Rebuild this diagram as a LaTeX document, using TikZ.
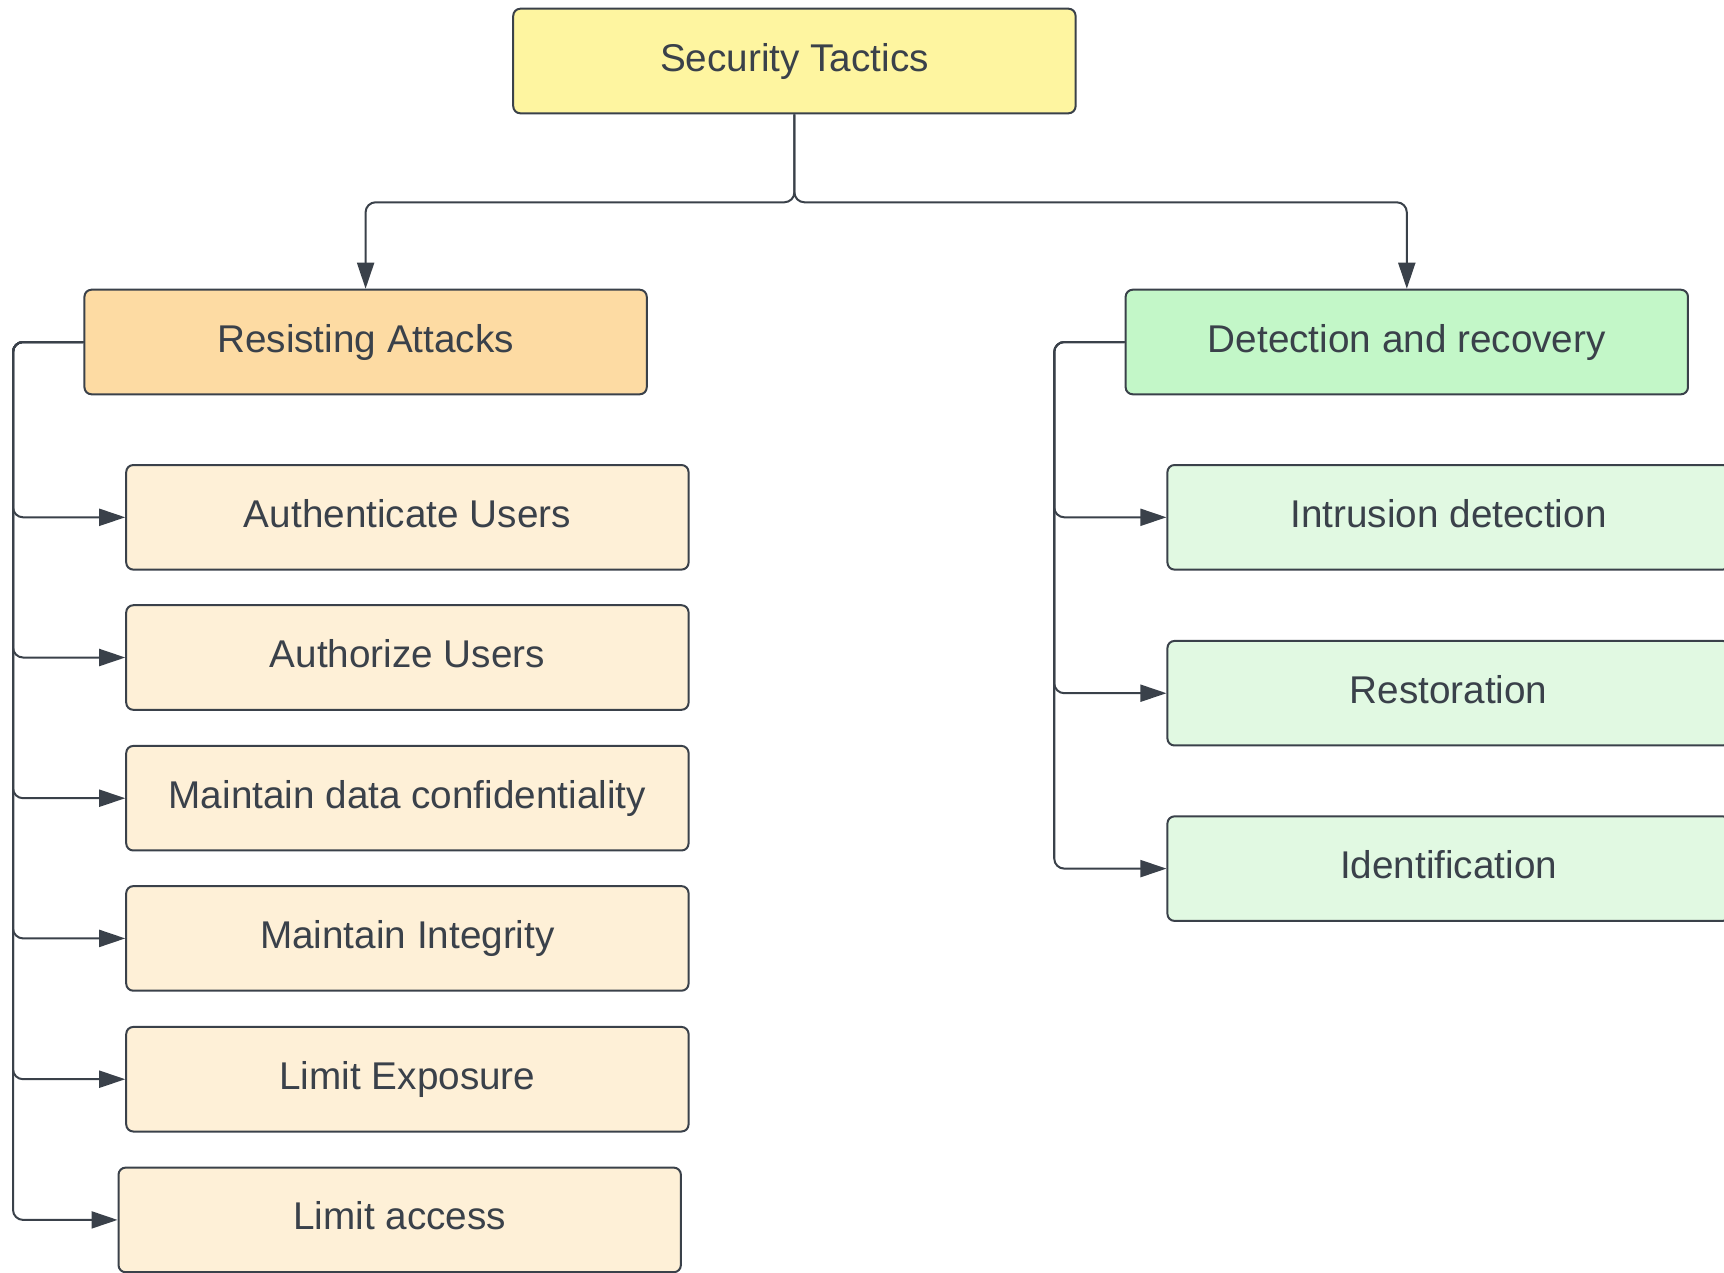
\documentclass[tikz,border=0pt]{standalone}
\usepackage{fontspec}
\setmainfont{Liberation Sans}
\usetikzlibrary{arrows.meta}
\definecolor{ink}{HTML}{3A414A}
\definecolor{topfill}{HTML}{FEF5A0}
\definecolor{resfill}{HTML}{FDDBA3}
\definecolor{resleaf}{HTML}{FEF0D7}
\definecolor{detfill}{HTML}{C3F7C8}
\definecolor{detleaf}{HTML}{E1F9E2}
\begin{document}
\begin{tikzpicture}[x=0.01cm,y=-0.01cm,
		box/.style={draw=ink, line width=0.02cm, rounded corners=0.07cm, minimum width=5.62cm, minimum height=1.045cm, inner sep=0pt, text height=0.3cm, text depth=0.1cm, text=ink, font=\fontsize{11}{13}\selectfont},
		conn/.style={draw=ink, line width=0.02cm, rounded corners=0.1cm, -{Triangle[length=0.26cm,width=0.17cm]}}]
			\useasboundingbox (0,0) rectangle (1724,1272);
			\clip (0,0) rectangle (1724,1272);
			
			\node[box, fill=topfill] (st) at (794.4,61) {Security Tactics};
			\node[box, fill=resfill] (ra) at (365.6,342) {Resisting Attacks};
			\node[box, fill=detfill] (dr) at (1406.8,342) {Detection and recovery};
			
			\draw[conn] (st.south) -- ++(0,88) -| (ra.north);
			\draw[conn] (st.south) -- ++(0,88) -| (dr.north);
			
			\foreach \nm/\x/\y/\txt in {au/407.4/517.3/Authenticate Users, az/407.4/657.5/Authorize Users, conf/407.4/798.2/Maintain data confidentiality, integ/407.4/938.4/Maintain Integrity, expo/407.4/1079.2/Limit Exposure, acc/399.7/1219.9/Limit access}{
				\node[box, fill=resleaf] (\nm) at (\x,\y) {\txt};
				\draw[conn] (ra.west) -- ++(-70.4,0) |- (\nm.west);
			}
			
			\foreach \nm/\y/\txt in {intr/517.3/Intrusion detection, rest/693.2/Restoration, ident/868.6/Identification}{
				\node[box, fill=detleaf] (\nm) at (1448.6,\y) {\txt};
				\draw[conn] (dr.west) -- ++(-70.4,0) |- (\nm.west);
			}
		\end{tikzpicture}
\end{document}
